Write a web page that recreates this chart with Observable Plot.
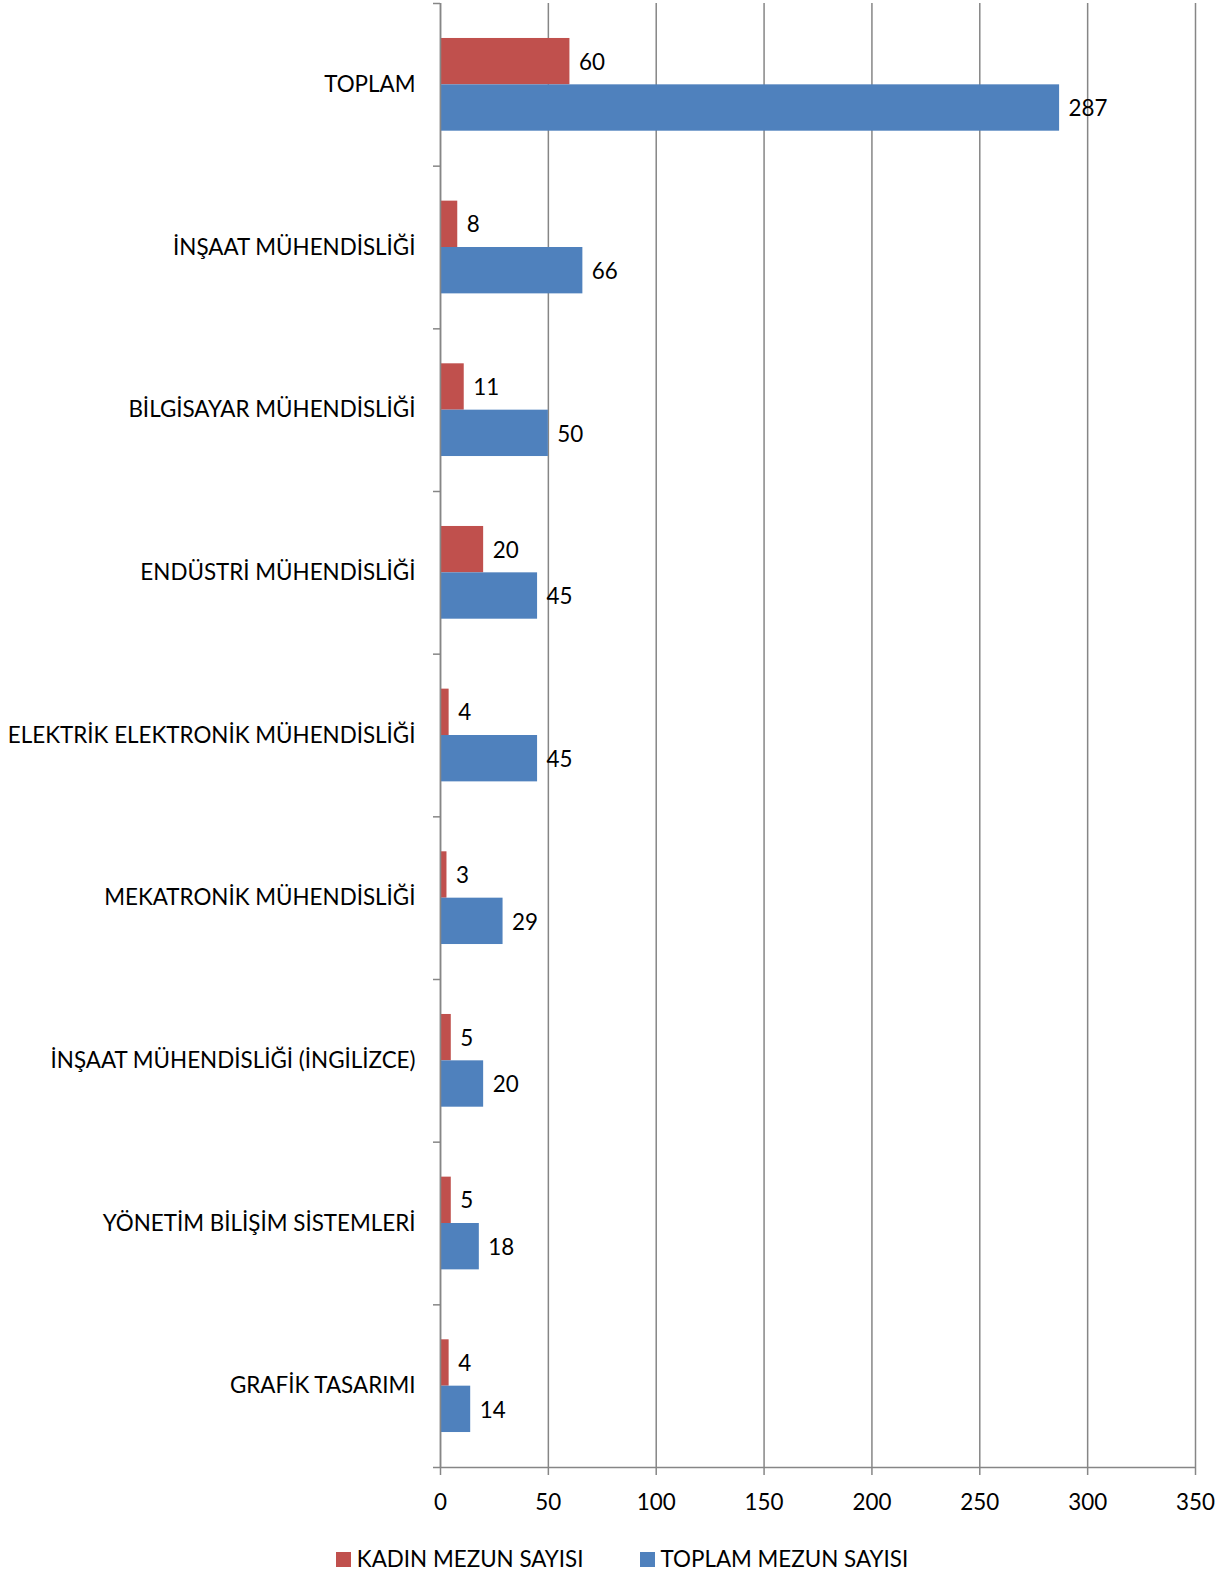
<!DOCTYPE html>
<html><head><meta charset="utf-8">
<script src="https://cdn.jsdelivr.net/npm/d3@7"></script>
<script src="https://cdn.jsdelivr.net/npm/@observablehq/plot@0.6"></script>
<style>
body{margin:0;background:#fff;font-family:Lato,"Open Sans",sans-serif;}
#legend{display:flex;justify-content:center;gap:56px;font-size:22.4px;line-height:26px;margin-top:21px;padding-left:18px;color:#000;}
#legend .item{display:flex;align-items:center;}
#legend .sw{width:15px;height:15px;margin-right:6px;display:inline-block;}
</style></head><body><div id="chart"></div><div id="legend"></div>
<script>
const categories = ["TOPLAM","İNŞAAT MÜHENDİSLİĞİ","BİLGİSAYAR MÜHENDİSLİĞİ","ENDÜSTRİ MÜHENDİSLİĞİ","ELEKTRİK ELEKTRONİK MÜHENDİSLİĞİ","MEKATRONİK MÜHENDİSLİĞİ","İNŞAAT MÜHENDİSLİĞİ (İNGİLİZCE)","YÖNETİM BİLİŞİM SİSTEMLERİ","GRAFİK TASARIMI"];
const kadin = [60, 8, 11, 20, 4, 3, 5, 5, 4];
const toplam = [287, 66, 50, 45, 45, 29, 20, 18, 14];
const seriesNames = ["KADIN MEZUN SAYISI","TOPLAM MEZUN SAYISI"];
const colors = ["#C0504D","#4F81BD"];
const xTicks = [0,50,100,150,200,250,300,350];

const n = categories.length;
const rows = categories.flatMap((c,i)=>[
  {cat:c,i,k:0,series:seriesNames[0],value:kadin[i]},
  {cat:c,i,k:1,series:seriesNames[1],value:toplam[i]}
]);
const padOuter = 0.215, half = 0.285;
const gray = "#868686";
const fs = 22.4;

const chart = Plot.plot({
  width:1226, height:1525,
  marginLeft:440, marginRight:31, marginTop:3, marginBottom:58,
  style:{fontFamily:"Lato, 'Open Sans', sans-serif", fontSize:fs+"px", color:"#000", background:"#fff", overflow:"visible"},
  x:{domain:[0,350]},
  y:{domain:[n,0]},
  color:{domain:seriesNames, range:colors},
  marks:[
    Plot.gridX(xTicks,{stroke:gray, strokeOpacity:1, strokeWidth:1.5}),
    Plot.rectX(rows,{x1:0, x2:"value", y1:d=>d.i+padOuter+d.k*half, y2:d=>d.i+padOuter+(d.k+1)*half, fill:"series"}),
    Plot.text(rows,{x:"value", y:d=>d.i+padOuter+(d.k+0.5)*half, text:d=>String(d.value), textAnchor:"start", dx:9, dy:1, fontSize:fs, fill:"#000"}),
    Plot.ruleX([0],{stroke:gray, strokeWidth:1.5}),
    Plot.ruleY([n],{stroke:gray, strokeWidth:1.5}),
    Plot.axisY(d3.range(n+1),{tickSize:7, tickFormat:()=>"", stroke:gray, strokeWidth:1.5, label:null}),
    Plot.axisY(categories.map((d,i)=>i+0.5),{tickSize:0, tickPadding:25, tickFormat:v=>categories[Math.round(v-0.5)], fontSize:fs, label:null}),
    Plot.axisX(xTicks,{tickSize:8, tickPadding:19, stroke:gray, strokeWidth:1.5, fontSize:fs, label:null})
  ]
});
document.getElementById("chart").appendChild(chart);
const lg = document.getElementById("legend");
seriesNames.forEach((s,i)=>{
  const it = document.createElement("div"); it.className="item";
  const sw = document.createElement("span"); sw.className="sw"; sw.style.background=colors[i];
  const tx = document.createElement("span"); tx.textContent=s;
  it.appendChild(sw); it.appendChild(tx); lg.appendChild(it);
});
</script></body></html>
